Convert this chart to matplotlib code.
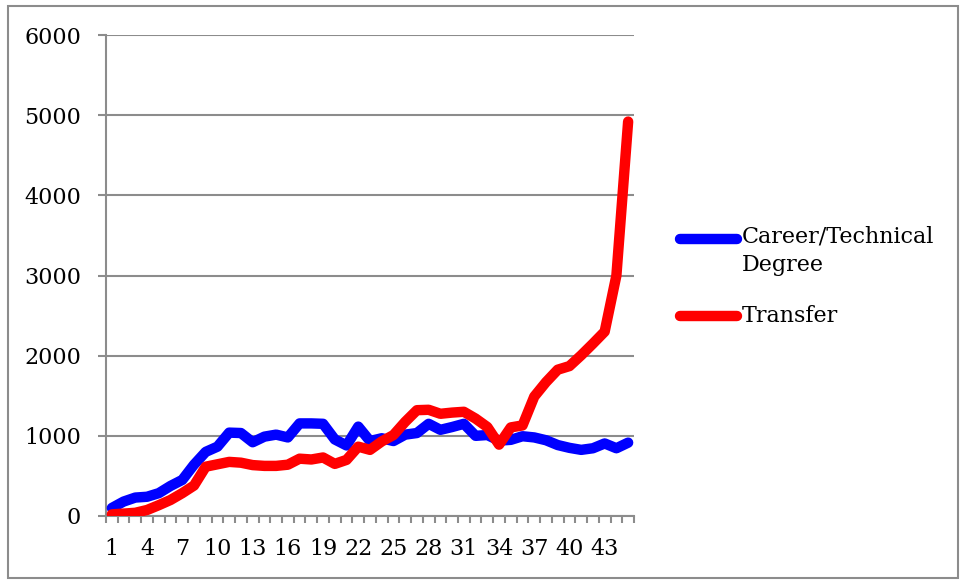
import matplotlib
matplotlib.use("Agg")
import matplotlib.pyplot as plt
from matplotlib.lines import Line2D
from matplotlib.patches import Rectangle

# Data
periods = list(range(1, 46))
career_technical = [100, 180, 230, 240, 285, 375, 450, 640, 800, 865,
                    1040, 1035, 920, 990, 1015, 980, 1155, 1155, 1150, 955,
                    880, 1115, 935, 970, 935, 1015, 1035, 1150, 1075, 1110,
                    1150, 1000, 1010, 940, 950, 995, 980, 945, 885, 850,
                    825, 845, 905, 845, 915]
transfer = [20, 30, 40, 75, 135, 200, 285, 380, 615, 645,
            675, 665, 635, 625, 625, 640, 715, 705, 730, 650,
            700, 865, 825, 930, 1010, 1175, 1320, 1325, 1275, 1290,
            1300, 1215, 1110, 890, 1105, 1130, 1490, 1670, 1825, 1870,
            2005, 2150, 2300, 3000, 4920]
series_names = ["Career/Technical\nDegree", "Transfer"]
series_colors = ["#0000ff", "#ff0000"]
x_tick_labels = [str(p) for p in range(1, 44, 3)]
y_ticks = [0, 1000, 2000, 3000, 4000, 5000, 6000]

plt.rcParams['font.family'] = ['DejaVu Serif']
grid_col = "#8c8c8c"
fs = 16

fig = plt.figure(figsize=(9.65, 5.82), dpi=100)
ax = fig.add_axes([106 / 965, 1 - 516 / 582, 528 / 965, 481 / 582])

for vals, col in zip([career_technical, transfer], series_colors):
    ax.plot(periods, vals, color=col, lw=7.5,
            solid_capstyle='round', solid_joinstyle='round', zorder=3)

ax.set_xlim(0.5, 45.5)
ax.set_ylim(0, 6000)

# y axis and grid
ax.set_yticks(y_ticks)
ax.set_yticklabels([str(v) for v in y_ticks], fontsize=fs)
ax.yaxis.grid(True, color=grid_col, lw=1.5)
ax.tick_params(axis='y', length=6, width=1.5, color=grid_col, pad=12)

# x axis: labels every third period, ticks between categories
ax.set_xticks(range(1, 44, 3))
ax.set_xticklabels(x_tick_labels, fontsize=fs)
ax.set_xticks([p - 0.5 for p in periods] + [45.5], minor=True)
ax.tick_params(axis='x', which='major', length=0, pad=16)
ax.tick_params(axis='x', which='minor', length=5, width=1.5, color=grid_col)

for side in ['top', 'right']:
    ax.spines[side].set_visible(False)
for side in ['left', 'bottom']:
    ax.spines[side].set_color(grid_col)
    ax.spines[side].set_linewidth(1.5)
ax.set_axisbelow(True)

# legend drawn beside the plot
legend_rows = [1 - 239 / 582, 1 - 316 / 582]
for name, col, yy in zip(series_names, series_colors, legend_rows):
    fig.add_artist(Line2D([680 / 965, 737 / 965], [yy, yy], color=col, lw=7.5,
                          solid_capstyle='round'))
    if "\n" in name:
        fig.text(742 / 965, yy + 0.024, name, fontsize=fs, va='top',
                 linespacing=1.4)
    else:
        fig.text(742 / 965, yy, name, fontsize=fs, va='center')

# outer chart border
fig.add_artist(Rectangle((8 / 965, 4 / 582), 950 / 965, 572 / 582,
                         transform=fig.transFigure, fill=False,
                         edgecolor=grid_col, lw=1.5))

fig.savefig("out.png", dpi=100)
